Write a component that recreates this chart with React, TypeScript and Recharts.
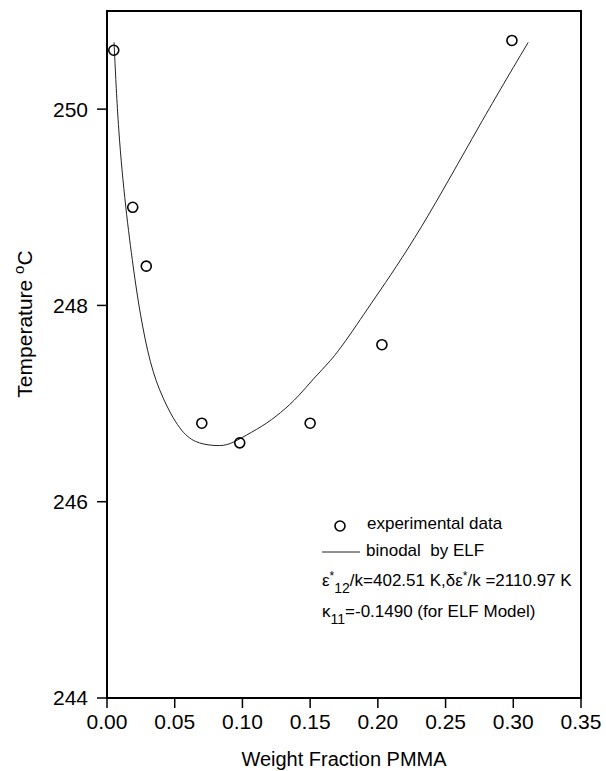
import { ComposedChart, Scatter, Line, XAxis, YAxis, ReferenceArea } from 'recharts';

// measured points (weight fraction PMMA, cloud point temperature)
const fracPoints = [0.005, 0.019, 0.029, 0.07, 0.098, 0.15, 0.203, 0.299];
const tempPoints = [250.6, 249.0, 248.4, 246.8, 246.6, 246.8, 247.6, 250.7];

// binodal by ELF
const fracCurve = [0.0052, 0.0083, 0.0138, 0.0194, 0.0244, 0.0318, 0.0406, 0.0539, 0.065, 0.078, 0.0886, 0.098, 0.115, 0.128, 0.142, 0.152, 0.165, 0.177, 0.196, 0.23, 0.277, 0.311];
const tempCurve = [250.68, 249.77, 248.98, 248.38, 247.91, 247.4, 247.06, 246.72, 246.6, 246.57, 246.57, 246.64, 246.77, 246.9, 247.08, 247.25, 247.43, 247.65, 248.04, 248.72, 249.89, 250.68];

const xTicks = [0, 0.05, 0.1, 0.15, 0.2, 0.25, 0.3, 0.35];
const yTicks = [244, 246, 248, 250];

const points = fracPoints.map((w, i) => ({ w, t: tempPoints[i] }));
const curve = fracCurve.map((w, i) => ({ w, t: tempCurve[i] }));

const font = '"Liberation Sans", Arial, sans-serif';
const tickStyle = { fill: '#000', fontSize: 21, fontFamily: font };

function YTitle() {
  return (
    <text transform="translate(24,324) rotate(-90)" textAnchor="middle" dominantBaseline="central"
      fontSize={21} fontFamily={font} fill="#000">
      Temperature <tspan fontSize={15} dy={-6}>o</tspan><tspan dy={6}>C</tspan>
    </text>
  );
}

function Legend() {
  const ts = { fontSize: 17, fontFamily: font, fill: '#000' };
  return (
    <svg width={606} height={771} style={{ position: 'absolute', left: 0, top: 0, pointerEvents: 'none' }}>
      <circle cx={340} cy={526} r={5} fill="none" stroke="#000" strokeWidth={1.6} />
      <text x={367} y={529} {...ts}>experimental data</text>
      <line x1={322} y1={552} x2={360} y2={552} stroke="#222" strokeWidth={1} />
      <text x={366} y={556} {...ts} style={{ whiteSpace: 'pre' }}>binodal  by ELF</text>
      <text x={322} y={586} {...ts}>
        ε<tspan fontSize={12} dy={-6}>*</tspan><tspan fontSize={14} dy={13}>12</tspan>
        <tspan dy={-7}>/k=402.51 K,δε</tspan><tspan fontSize={12} dy={-6}>*</tspan><tspan dy={6}>/k =2110.97 K</tspan>
      </text>
      <text x={322} y={617} {...ts}>
        κ<tspan fontSize={14} dy={7}>11</tspan><tspan dy={-7}>=-0.1490 (for ELF Model)</tspan>
      </text>
    </svg>
  );
}

export default function App() {
  return (
    <div style={{ position: 'absolute', left: 0, top: 0, width: 606, height: 771, background: '#fff' }}>
      <ComposedChart width={606} height={771} margin={{ top: 11, right: 25, left: 0, bottom: 0 }}>
        <XAxis
          dataKey="w"
          type="number"
          domain={[0, 0.35]}
          ticks={xTicks}
          tickFormatter={(v: number) => v.toFixed(2)}
          height={73}
          tickSize={10}
          tickMargin={6}
          tick={tickStyle}
          axisLine={{ stroke: '#000', strokeWidth: 2 }}
          tickLine={{ stroke: '#000', strokeWidth: 1.5 }}
          allowDataOverflow
          label={{ value: 'Weight Fraction PMMA', position: 'insideBottom', offset: 5, fill: '#000', fontSize: 20, fontFamily: font }}
        />
        <YAxis
          dataKey="t"
          type="number"
          domain={[244, 251]}
          ticks={yTicks}
          width={107}
          tickSize={10}
          tickMargin={9}
          tick={tickStyle}
          axisLine={{ stroke: '#000', strokeWidth: 2 }}
          tickLine={{ stroke: '#000', strokeWidth: 1.5 }}
          allowDataOverflow
          label={<YTitle />}
        />
        <ReferenceArea x1={0} x2={0.35} y1={244} y2={251} fill="none" stroke="#000" strokeWidth={2} ifOverflow="visible" />
        <Line data={curve} dataKey="t" type="basis" dot={false} stroke="#222" strokeWidth={1} isAnimationActive={false} />
        <Scatter
          data={points}
          dataKey="t"
          isAnimationActive={false}
          shape={(p: any) => <circle cx={p.cx} cy={p.cy} r={5} fill="none" stroke="#000" strokeWidth={1.6} />}
        />
      </ComposedChart>
      <Legend />
    </div>
  );
}
